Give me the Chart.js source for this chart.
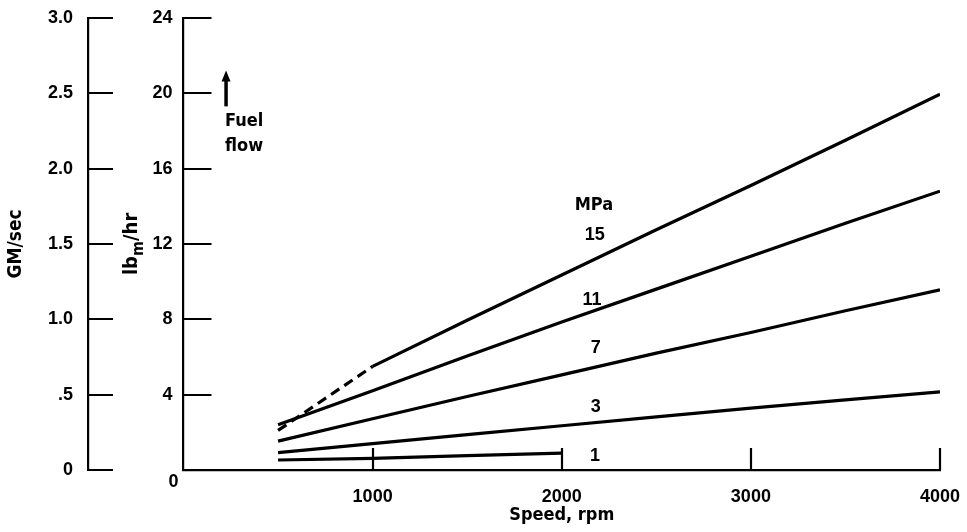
<!DOCTYPE html>
<html>
<head>
<meta charset="utf-8">
<script src="https://cdn.jsdelivr.net/npm/chart.js@4/dist/chart.umd.min.js"></script>
<style>
  body { margin: 0; background: #fff; }
  canvas { display: block; }
</style>
</head>
<body>
<canvas id="chart" width="967" height="532"></canvas>
<script>
// speed, rpm
const speeds = [500, 1000, 1500, 2000, 2500, 3000, 3500, 4000];
const speedsLow = [500, 1000, 1500, 2000];
const speedsDashed = [500, 1000];

// fuel flow, lbm/hr, one array per pressure (MPa)
const flow15 = [null, 5.5, 7.95, 10.35, 12.75, 15.1, 17.5, 19.95];
const flow15Dashed = [2.1, 5.5];
const flow11 = [2.4, 4.2, 6.05, 7.85, 9.6, 11.35, 13.1, 14.8];
const flow7 = [1.53, 2.72, 3.9, 5.05, 6.2, 7.3, 8.45, 9.56];
const flow3 = [0.92, 1.4, 1.88, 2.35, 2.82, 3.28, 3.72, 4.15];
const flow1 = [0.53, 0.62, 0.76, 0.9];

// pressure labels next to the curves
const pressureLabels = ['MPa', '15', '11', '7', '3', '1'];
const pressureLabelX = [2170, 2175, 2160, 2180, 2180, 2176];
const pressureLabelY = [14.05, 12.45, 9.0, 6.45, 3.35, 0.75];

const xTicks = [0, 1000, 2000, 3000, 4000];
const gmTickLabels = ['0', '.5', '1.0', '1.5', '2.0', '2.5', '3.0'];

const FONT = "'DejaVu Sans Condensed', 'DejaVu Sans', sans-serif";
const NUM_FONT = "'Liberation Sans', Arial, sans-serif";
Chart.defaults.font.family = FONT;
Chart.defaults.font.size = 18;
Chart.defaults.font.weight = 'bold';
Chart.defaults.color = '#000';

const numTicks = { family: NUM_FONT, size: 18, weight: 'bold' };

const toPoints = (xs, ys) => xs.map((x, i) => ({ x: x, y: ys[i] }));

function curve(xs, ys, dash) {
    return {
        data: toPoints(xs, ys),
        borderColor: '#000',
        borderWidth: 3.2,
        borderDash: dash || [],
        pointRadius: 0,
        fill: false,
        tension: 0,
        spanGaps: false
    };
}

// tick marks point into the plot, and a few hand labels
const paperMarks = {
    id: 'paperMarks',
    afterDraw(chart) {
        const { ctx, scales: { x, y, y2 } } = chart;
        ctx.save();
        ctx.strokeStyle = '#000';
        ctx.lineWidth = 2.2;
        ctx.beginPath();
        x.ticks.forEach(t => {
            if (t.value === 0) return;
            const px = Math.round(x.getPixelForValue(t.value));
            ctx.moveTo(px, x.top);
            ctx.lineTo(px, x.top - 22);
        });
        y.ticks.forEach(t => {
            if (t.value === 0) return;
            const py = Math.round(y.getPixelForValue(t.value));
            ctx.moveTo(y.right, py);
            ctx.lineTo(y.right + 28, py);
        });
        y2.ticks.forEach(t => {
            const py = Math.round(y2.getPixelForValue(t.value));
            ctx.moveTo(y2.right, py);
            ctx.lineTo(y2.right + 25, py);
        });
        ctx.stroke();

        ctx.fillStyle = '#000';
        const big = 'bold 18px ' + FONT;
        const num = 'bold 18px ' + NUM_FONT;

        // the lone zero under the corner
        ctx.font = num;
        ctx.textAlign = 'center';
        ctx.textBaseline = 'middle';
        ctx.fillText('0', y.right - 10, x.top + 12);

        // pressure labels
        pressureLabels.forEach((txt, i) => {
            ctx.font = i === 0 ? big : num;
            ctx.fillText(txt, x.getPixelForValue(pressureLabelX[i]), y.getPixelForValue(pressureLabelY[i]));
        });

        // fuel flow arrow
        const ax = x.getPixelForValue(225);
        const aTop = y.getPixelForValue(21.2);
        const aBot = y.getPixelForValue(19.3);
        ctx.lineWidth = 3.5;
        ctx.beginPath();
        ctx.moveTo(ax, aBot);
        ctx.lineTo(ax, aTop + 6);
        ctx.stroke();
        ctx.beginPath();
        ctx.moveTo(ax, aTop);
        ctx.lineTo(ax - 4.5, aTop + 11);
        ctx.lineTo(ax + 4.5, aTop + 11);
        ctx.closePath();
        ctx.fill();
        ctx.font = big;
        ctx.textAlign = 'left';
        ctx.fillText('Fuel', ax - 1, y.getPixelForValue(18.5));
        ctx.fillText('flow', ax - 1, y.getPixelForValue(17.2));

        // lb_m/hr title with subscript
        const cx = y.left + 44;
        const cy = (y.top + y.bottom) / 2;
        ctx.translate(cx, cy);
        ctx.rotate(-Math.PI / 2);
        const titleFont = 'bold 20px ' + FONT;
        const small = 'bold 16px ' + FONT;
        ctx.font = titleFont;
        const w1 = ctx.measureText('lb').width;
        const w3 = ctx.measureText('/hr').width;
        ctx.font = small;
        const w2 = ctx.measureText('m').width;
        let sx = -(w1 + w2 + w3) / 2;
        ctx.textAlign = 'left';
        ctx.font = titleFont;
        ctx.fillText('lb', sx, 0);
        sx += w1;
        ctx.font = small;
        ctx.fillText('m', sx, 7);
        sx += w2;
        ctx.font = titleFont;
        ctx.fillText('/hr', sx, 0);
        ctx.restore();
    }
};

const data = {
    datasets: [
        curve(speeds, flow15),
        curve(speedsDashed, flow15Dashed, [10, 6]),
        curve(speeds, flow11),
        curve(speeds, flow7),
        curve(speeds, flow3),
        curve(speedsLow, flow1)
    ]
};

const config = {
    type: 'line',
    data,
    plugins: [paperMarks],
    options: {
        responsive: false,
        animation: false,
        layout: { padding: { top: 16, right: 27, left: 0, bottom: 0 } },
        plugins: { legend: { display: false }, tooltip: { enabled: false } },
        scales: {
            x: {
                type: 'linear',
                min: 0,
                max: 4000,
                afterFit(scale) {
                    scale.height = 62;
                    scale.paddingLeft = 0;
                    scale.paddingRight = 0;
                },
                afterBuildTicks(scale) { scale.ticks = xTicks.map(v => ({ value: v })); },
                grid: { display: false },
                border: { display: true, color: '#000', width: 2.2 },
                ticks: {
                    font: numTicks,
                    padding: 8,
                    maxRotation: 0,
                    callback: v => (v === 0 ? '' : String(v))
                },
                title: { display: true, text: 'Speed, rpm', padding: { top: 0, bottom: 6 } }
            },
            y: {
                type: 'linear',
                position: 'left',
                weight: 0,
                min: 0,
                max: 24,
                afterFit(scale) { scale.width = 95.5; },
                grid: { display: false },
                border: { display: true, color: '#000', width: 2.2 },
                ticks: {
                    font: numTicks,
                    stepSize: 4,
                    padding: 3,
                    callback: v => (v === 0 ? '' : String(v))
                }
            },
            y2: {
                type: 'linear',
                position: 'left',
                weight: 1,
                min: 0,
                max: 3,
                afterFit(scale) { scale.width = 88; },
                grid: { display: false },
                border: { display: true, color: '#000', width: 2.2 },
                ticks: {
                    font: numTicks,
                    stepSize: 0.5,
                    padding: 7,
                    callback: (v, i) => gmTickLabels[i]
                },
                title: { display: true, text: 'GM/sec', font: { size: 19 }, padding: { top: 5, bottom: 0 } }
            }
        }
    }
};

new Chart(document.getElementById('chart'), config);
</script>
</body>
</html>
